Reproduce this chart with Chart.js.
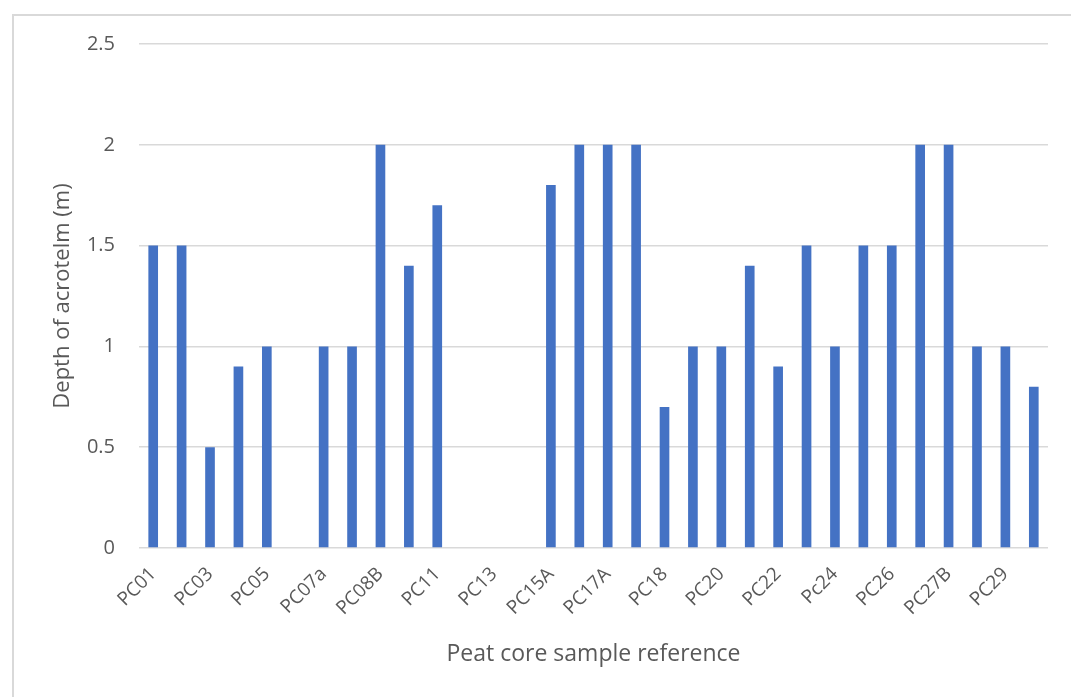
<!DOCTYPE html>
<html>
<head>
<meta charset="utf-8">
<script src="https://cdn.jsdelivr.net/npm/chart.js@4"></script>
<style>
  html, body { margin: 0; padding: 0; background: #fff; overflow: hidden; }
  #wrap { position: relative; width: 1071px; height: 697px; }
  #frame { position: absolute; left: 12px; top: 14px; width: 1100px; height: 750px;
           border-left: 2px solid #d9d9d9; border-top: 2px solid #d9d9d9; box-sizing: border-box; }
  canvas { position: absolute; left: 0; top: 0; }
</style>
</head>
<body>
<div id="wrap">
  <div id="frame"></div>
  <canvas id="c" width="1071" height="697"></canvas>
</div>
<script>
// Peat core sample references (every other one labelled on the axis)
const categories = [
  'PC01','PC02','PC03','PC04','PC05','PC06','PC07a','PC07b',
  'PC08B','PC10','PC11','PC12','PC13','PC14','PC15A','PC16',
  'PC17A','PC17B','PC18','PC19','PC20','PC21','PC22','PC23',
  'Pc24','PC25','PC26','PC27A','PC27B','PC28','PC29','PC30'
];
// Depth of acrotelm in metres (null = no value recorded)
const depthValues = [
  1.5, 1.5, 0.5, 0.9, 1.0, null, 1.0, 1.0,
  2.0, 1.4, 1.7, null, null, null, 1.8, 2.0,
  2.0, 2.0, 0.7, 1.0, 1.0, 1.4, 0.9, 1.5,
  1.0, 1.5, 1.5, 2.0, 2.0, 1.0, 1.0, 0.8
];
const yTicks = [0, 0.5, 1, 1.5, 2, 2.5];

const FONT = '"Open Sans", "Liberation Sans", sans-serif';
const GREY = '#595959';

new Chart(document.getElementById('c'), {
  type: 'bar',
  data: {
    labels: categories,
    datasets: [{
      data: depthValues,
      backgroundColor: '#4472C4',
      borderWidth: 0,
      categoryPercentage: 1.0,
      barPercentage: 0.34
    }]
  },
  options: {
    responsive: false,
    animation: false,
    devicePixelRatio: 1,
    layout: { padding: { left: 0, right: 23, top: 44, bottom: 0 } },
    plugins: { legend: { display: false }, tooltip: { enabled: false } },
    scales: {
      x: {
        grid: { display: false, drawTicks: false },
        border: { display: false },
        ticks: {
          autoSkip: false,
          minRotation: 45,
          maxRotation: 45,
          padding: 15,
          color: GREY,
          font: { family: FONT, size: 19 },
          callback: function (v, i) { return i % 2 === 0 ? categories[i] : ''; }
        },
        title: {
          display: true,
          text: 'Peat core sample reference',
          color: GREY,
          font: { family: FONT, size: 23 },
          padding: { top: 0, bottom: 29 }
        },
        afterFit: function (s) { s.height = 149; }
      },
      y: {
        min: 0, max: 2.5,
        afterBuildTicks: function (s) { s.ticks = yTicks.map(v => ({ value: v })); },
        grid: { color: '#d9d9d9', lineWidth: 1.5, drawTicks: false },
        border: { display: false },
        ticks: {
          padding: 24,
          color: GREY,
          font: { family: FONT, size: 20 },
          callback: function (v) { return String(v); }
        },
        title: {
          display: true,
          text: 'Depth of acrotelm (m)',
          color: GREY,
          font: { family: FONT, size: 22 },
          padding: { top: 50, bottom: 0 }
        },
        afterFit: function (s) { s.width = 139; }
      }
    }
  }
});
</script>
</body>
</html>
